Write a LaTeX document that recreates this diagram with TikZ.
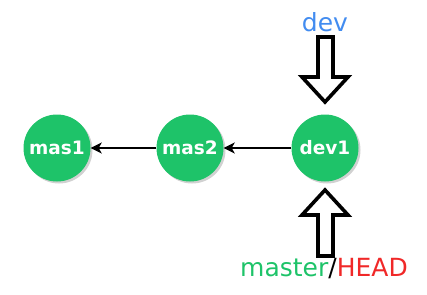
\documentclass[tikz,border=0pt]{standalone}
\usepackage{fontspec}
\setmainfont{DejaVu Sans}
\usetikzlibrary{arrows.meta,shadows}
\definecolor{cgreen}{RGB}{30,195,105}
\definecolor{cblue}{RGB}{66,140,240}
\definecolor{cred}{RGB}{240,40,40}
\begin{document}
\begin{tikzpicture}[x=1pt,y=-1pt,
 commit/.style={circle,fill=cgreen,minimum size=67pt,inner sep=0pt,text=white,
   font=\bfseries\fontsize{18.5}{18.5}\selectfont,
   drop shadow={shadow xshift=2pt,shadow yshift=-2pt,fill=black!30,opacity=0.6}},
 link/.style={-{Stealth[length=11pt,width=11pt,inset=3pt]},line width=2.8pt},
 block/.style={draw=black,line width=3.6pt,fill=white,line join=miter},
 label/.style={font=\fontsize{25}{25}\selectfont,inner sep=0pt}]
\useasboundingbox (0,0) rectangle (427,294);
\node[commit] (mas1) at (57,148) {mas1};
\node[commit] (mas2) at (190,148) {mas2};
\node[commit] (dev1) at (325,148) {dev1};
\draw[link] (mas2) -- (mas1);
\draw[link] (dev1) -- (mas2);
\draw[block] (318,37) -- (333,37) -- (333,77) -- (348,77) -- (325,102) -- (302,77) -- (318,77) -- cycle;
\draw[block] (325,190) -- (348,215) -- (333,215) -- (333,256) -- (318,256) -- (318,215) -- (302,215) -- cycle;
\node[label,text=cblue] (dev) at (325,22) {dev};
\node[label] (mh) at (324,269) {\textcolor{cgreen}{master}/\textcolor{cred}{HEAD}};
\end{tikzpicture}
\end{document}
